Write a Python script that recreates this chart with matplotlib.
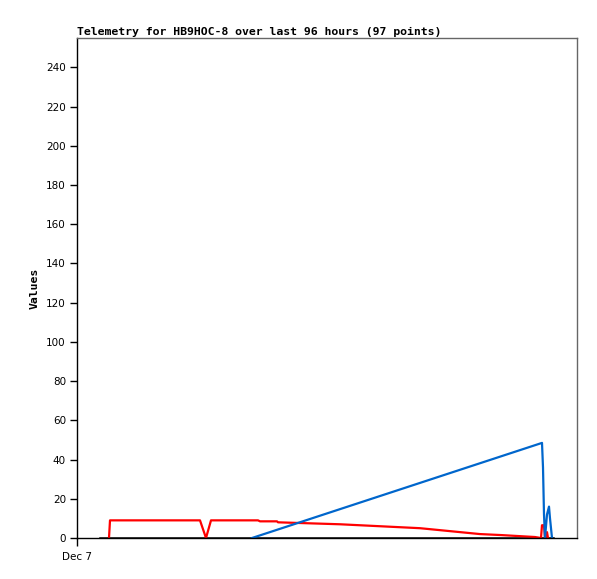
import matplotlib
matplotlib.use('Agg')
import matplotlib.pyplot as plt

# hours since Dec 7 00:00
black_x = [4.6, 95.2]
black_y = [0, 0]

red_x = [6.4, 6.6, 24.6, 25.8, 26.8, 36.2, 36.6, 40.0, 40.2, 52.6, 68.6, 80.6, 84.8, 88.2, 91.6,
         92.8, 93.0, 93.4, 93.6, 94.0, 94.2]
red_y = [0, 9, 9, 0, 9, 9, 8.5, 8.5, 8, 7, 5, 2, 1.5, 1, 0.5,
         0, 6.5, 6.5, 0, 3, 0]

blue_x = [35.0, 93.0, 93.2, 93.4, 93.6, 94.0, 94.4, 94.6, 95.0]
blue_y = [0, 48.5, 36, 12, 0, 12, 16, 10, 0]

yticks = list(range(0, 241, 20))
xtick_pos = [0]
xtick_labels = ['Dec 7']

fig = plt.figure(figsize=(5.97, 5.79), dpi=100)
ax = fig.add_axes([77/597, 41/579, 500/597, 500/579])

ax.plot(black_x, black_y, color='black', lw=1.8)
ax.plot(red_x, red_y, color='#ff0000', lw=1.6)
ax.plot(blue_x, blue_y, color='#0066cc', lw=1.6)

ax.set_xlim(0, 100)
ax.set_ylim(0, 255)
ax.set_yticks(yticks)
ax.set_yticklabels([str(v) for v in yticks], fontsize=7.5)
ax.set_xticks(xtick_pos)
ax.set_xticklabels(xtick_labels, fontsize=7.5)
ax.tick_params(axis='y', length=5, width=1, pad=3)
ax.tick_params(axis='x', length=6, width=1, pad=4)

ax.spines['top'].set_color('#666666')
ax.spines['right'].set_color('#666666')
for s in ax.spines.values():
    s.set_linewidth(1)

ax.set_title('Telemetry for HB9HOC-8 over last 96 hours (97 points)',
             loc='left', fontsize=8.25, fontweight='bold', family='DejaVu Sans Mono', pad=2)
ax.set_ylabel('Values', fontsize=8.25, fontweight='bold', family='DejaVu Sans Mono', labelpad=5)

fig.savefig('out.png', dpi=100)
